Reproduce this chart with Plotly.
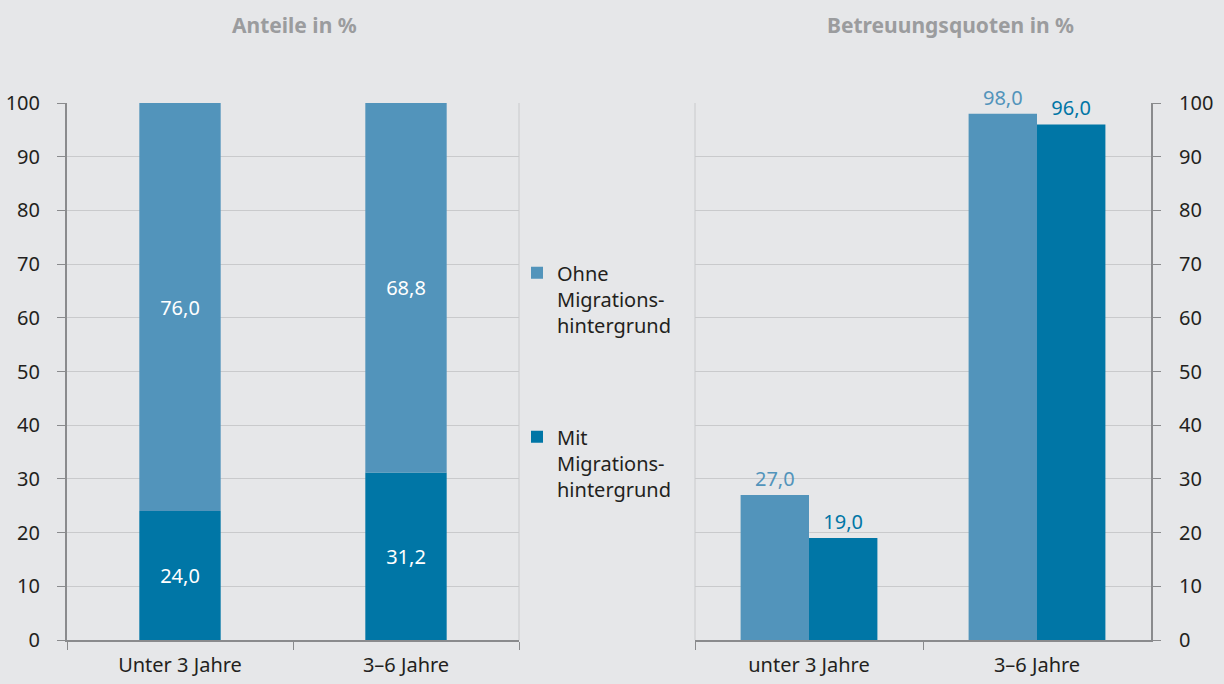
import plotly.graph_objects as go

# Data
cats_left = ["Unter 3 Jahre", "3–6 Jahre"]
mit_share = [24.0, 31.2]
ohne_share = [76.0, 68.8]

cats_right = ["unter 3 Jahre", "3–6 Jahre"]
ohne_quote = [27.0, 98.0]
mit_quote = [19.0, 96.0]

name_ohne = "Ohne<br>Migrations-<br>hintergrund"
name_mit = "Mit<br>Migrations-<br>hintergrund"

C_LIGHT = "#5294bb"
C_DARK = "#0076a6"
BG = "#e6e7e9"
GRID = "#c9cacc"
AXIS = "#8a8b8d"
TXT = "#231f20"
FONT = "Noto Sans"

ML, MR, MT, MB = 67, 73, 103, 44
PW = 1224 - ML - MR
PH = 684 - MT - MB

fig = go.Figure()

# Left panel: stacked shares (same offsetgroup, top segment based on lower one)
fig.add_trace(go.Bar(
    x=cats_left, y=mit_share, name=name_mit, marker_color=C_DARK,
    marker_line_width=0,
    offsetgroup="L", width=0.36, xaxis="x", yaxis="y",
    texttemplate="%{y:.1f}", textposition="inside", insidetextanchor="middle",
    textfont=dict(color="white", size=20, family=FONT),
    legendgroup="mit", legendrank=2, showlegend=True,
))
fig.add_trace(go.Bar(
    x=cats_left, y=ohne_share, base=mit_share, name=name_ohne, marker_color=C_LIGHT,
    marker_line_width=0,
    offsetgroup="L", width=0.36, xaxis="x", yaxis="y",
    texttemplate="%{y:.1f}", textposition="inside", insidetextanchor="middle",
    textfont=dict(color="white", size=20, family=FONT),
    legendgroup="ohne", legendrank=1, showlegend=True,
))

# Right panel: grouped rates
fig.add_trace(go.Bar(
    x=cats_right, y=ohne_quote, name=name_ohne, marker_color=C_LIGHT,
    marker_line_width=0,
    offsetgroup="R1", xaxis="x2", yaxis="y2",
    texttemplate="%{y:.1f}", textposition="outside", cliponaxis=False,
    textfont=dict(color=C_LIGHT, size=20, family=FONT),
    legendgroup="ohne", showlegend=False,
))
fig.add_trace(go.Bar(
    x=cats_right, y=mit_quote, name=name_mit, marker_color=C_DARK,
    marker_line_width=0,
    offsetgroup="R2", xaxis="x2", yaxis="y2",
    texttemplate="%{y:.1f}", textposition="outside", cliponaxis=False,
    textfont=dict(color=C_DARK, size=20, family=FONT),
    legendgroup="mit", showlegend=False,
))

yax_common = dict(
    range=[0, 100], dtick=10, showgrid=True, gridcolor=GRID, gridwidth=1,
    showline=True, linecolor=AXIS, linewidth=2, ticks="outside", ticklen=8,
    tickcolor=AXIS, tickwidth=1, zeroline=False, automargin=False,
    tickfont=dict(size=20, color=TXT, family=FONT),
)
xax_common = dict(
    type="category", showline=True, linecolor=AXIS, linewidth=2,
    ticks="outside", tickson="boundaries", ticklen=8, tickcolor=AXIS, tickwidth=1,
    tickfont=dict(size=20, color=TXT, family=FONT), showgrid=False,
    ticklabelstandoff=6, automargin=False,
)

fig.update_layout(
    width=1224, height=684,
    paper_bgcolor=BG, plot_bgcolor=BG,
    margin=dict(l=ML, r=MR, t=MT, b=MB, autoexpand=False),
    barmode="group", bargap=0.4, bargroupgap=0,
    separators=",.",
    font=dict(family=FONT, color=TXT, size=20),
    xaxis=dict(domain=[0, (519 - ML) / PW], anchor="y", **xax_common),
    yaxis=dict(anchor="x", side="left", ticklabelstandoff=13, **yax_common),
    xaxis2=dict(domain=[(695 - ML) / PW, 1.0], anchor="y2", **xax_common),
    yaxis2=dict(anchor="x2", side="right", ticklabelstandoff=14, **yax_common),
    showlegend=True,
    legend=dict(
        x=(517 - ML) / PW, xanchor="left", y=0.72, yanchor="top",
        bgcolor="rgba(0,0,0,0)", borderwidth=0,
        font=dict(size=20, color=TXT, family=FONT),
        valign="top", tracegroupgap=83, itemclick=False, itemdoubleclick=False,
    ),
    shapes=[
        dict(type="line", xref="x domain", yref="y domain", x0=1, x1=1, y0=0, y1=1,
             line=dict(color=GRID, width=1), layer="below"),
        dict(type="line", xref="x2 domain", yref="y2 domain", x0=0, x1=0, y0=0, y1=1,
             line=dict(color=GRID, width=1), layer="below"),
    ],
    annotations=[
        dict(text="<b>Anteile in %</b>", xref="paper", yref="paper",
             x=(294 - ML) / PW, y=1 + (MT - 25) / PH, xanchor="center", yanchor="middle",
             showarrow=False, font=dict(size=21, color="#9b9c9e", family=FONT)),
        dict(text="<b>Betreuungsquoten in %</b>", xref="paper", yref="paper",
             x=(950 - ML) / PW, y=1 + (MT - 25) / PH, xanchor="center", yanchor="middle",
             showarrow=False, font=dict(size=21, color="#9b9c9e", family=FONT)),
    ],
)

fig.write_html(
    "out.html",
    config={"displayModeBar": False},
    post_script="document.body.style.margin='0';document.body.style.background='#e6e7e9';",
)
